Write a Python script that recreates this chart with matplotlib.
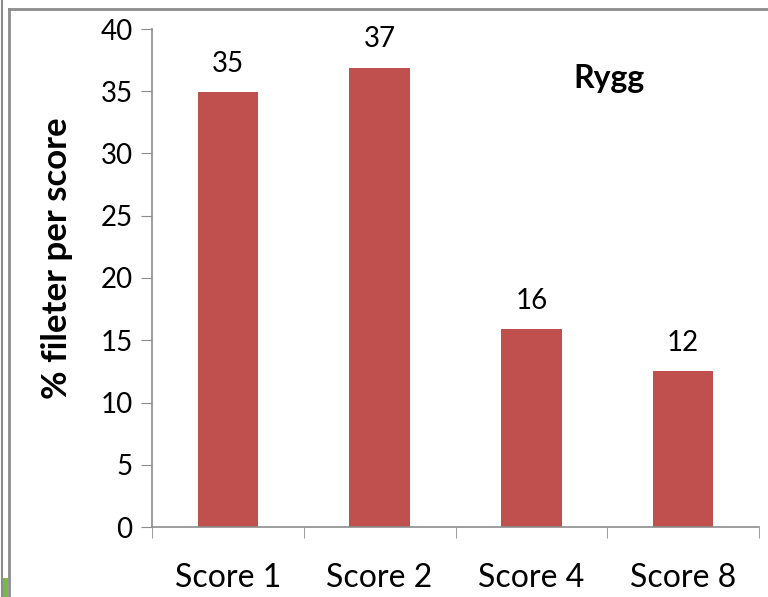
import matplotlib
matplotlib.use("Agg")
import matplotlib.pyplot as plt
from matplotlib.patches import Rectangle
from matplotlib.lines import Line2D

categories = ["Score 1", "Score 2", "Score 4", "Score 8"]
values = [34.9, 36.9, 15.9, 12.5]
value_labels = ["35", "37", "16", "12"]
yticks = [0, 5, 10, 15, 20, 25, 30, 35, 40]
title = "Rygg"
ylabel = "% fileter per score"

plt.rcParams['font.family'] = ['Lato', 'DejaVu Sans']

W, H = 768, 597
fig = plt.figure(figsize=(W / 100, H / 100), dpi=100)

# frame lines
gray = "#8c8c8c"
fig.add_artist(Line2D([1.5 / W, 1.5 / W], [0, 1], color=gray, lw=1.5, transform=fig.transFigure))
fig.add_artist(Line2D([9 / W, 9 / W], [0, 1 - 9 / H], color=gray, lw=2, transform=fig.transFigure))
fig.add_artist(Line2D([9 / W, 1], [1 - 9 / H, 1 - 9 / H], color=gray, lw=2, transform=fig.transFigure))
fig.add_artist(Rectangle((3 / W, 0), 5 / W, 19 / H, color="#77bb44", transform=fig.transFigure, lw=0))

ax = fig.add_axes([152 / W, 1 - 527 / H, (759 - 152) / W, (527 - 29) / H])
x = list(range(len(categories)))
bars = ax.bar(x, values, width=0.4, color="#c0504d")

for xi, v, lab in zip(x, values, value_labels):
    ax.annotate(lab, (xi, v), xytext=(0, 11), textcoords="offset points",
                ha="center", va="bottom", fontsize=20)

ax.set_xlim(-0.5, len(categories) - 0.5)
ax.set_ylim(0, 40)
ax.set_yticks(yticks)
ax.set_yticklabels([str(t) for t in yticks], fontsize=20)
ax.set_xticks(x)
ax.set_xticklabels(categories, fontsize=23)
ax.set_xticks([i - 0.5 for i in range(len(categories) + 1)], minor=True)
ax.tick_params(axis="x", which="major", length=0, pad=26)
ax.tick_params(axis="x", which="minor", length=8, color=gray, direction="out")
ax.tick_params(axis="y", length=8, color=gray, direction="out", pad=6)

for s in ["top", "right"]:
    ax.spines[s].set_visible(False)
for s in ["left", "bottom"]:
    ax.spines[s].set_color(gray)
    ax.spines[s].set_linewidth(1.2)

ax.set_ylabel(ylabel, fontsize=25, fontweight="bold", labelpad=20, y=0.54)
ax.text(0.753, 0.9, title, transform=ax.transAxes, fontsize=23, fontweight="bold",
        ha="center", va="center")

fig.savefig("out.png", dpi=100)
